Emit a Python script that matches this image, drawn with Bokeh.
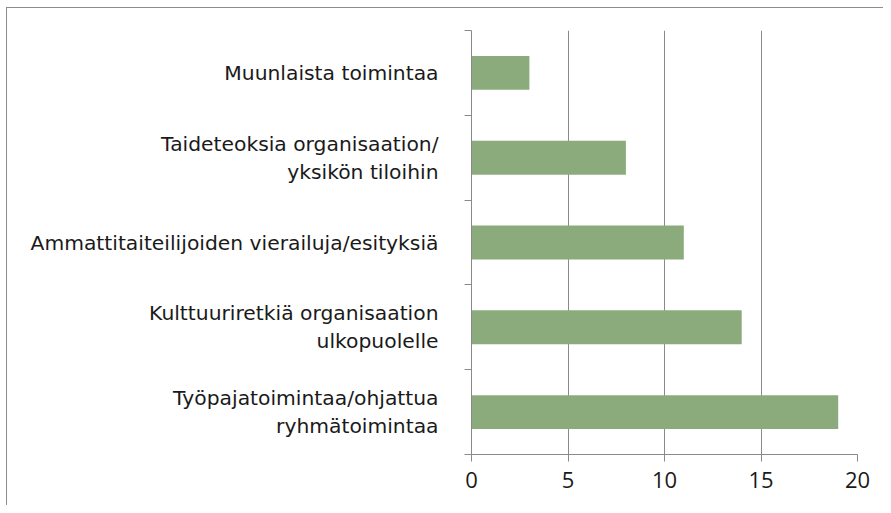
from bokeh.plotting import figure
from bokeh.models import Range1d, FixedTicker, ColumnDataSource, LinearAxis
from bokeh.embed import file_html
from bokeh.resources import INLINE

# Data (bottom to top)
categories = [
    "Työpajatoimintaa/ohjattua\nryhmätoimintaa",
    "Kulttuuriretkiä organisaation\nulkopuolelle",
    "Ammattitaiteilijoiden vierailuja/esityksiä",
    "Taideteoksia organisaation/\nyksikön tiloihin",
    "Muunlaista toimintaa",
]
values = [19, 14, 11, 8, 3]
x_ticks = [0, 5, 10, 15, 20]

n = len(categories)
pos = [i + 0.5 for i in range(n)]

BAR = "#8bab7d"
GREY = "#8a8a8a"
TEXT = "#1a1a1a"
FONT = "DejaVu Sans"
NUMFONT = "Open Sans"

p = figure(width=883, height=505, output_backend="svg", toolbar_location=None,
           x_range=Range1d(0, 20), y_range=Range1d(0, n))
p.min_border_left = 471
p.min_border_right = 26
p.min_border_top = 30
p.min_border_bottom = 51
p.outline_line_color = None
p.background_fill_color = "white"
p.border_fill_color = None
p.styles = {"box-shadow": "inset 6px 7px 0 0 white, inset 7px 8px 0 0 #8c8c8c",
            "background-color": "white"}

src = ColumnDataSource(dict(y=pos, v=values))
p.hbar(y="y", right="v", left=0, height=0.4, source=src,
       fill_color=BAR, line_color=None)

# x axis
xa = p.xaxis[0]
xa.ticker = FixedTicker(ticks=x_ticks)
xa.axis_line_color = GREY
xa.major_tick_line_color = GREY
xa.major_tick_out = 7
xa.major_tick_in = 0
xa.minor_tick_line_color = None
xa.major_label_text_font = NUMFONT
xa.major_label_text_font_size = "22px"
xa.major_label_text_color = TEXT
xa.major_label_standoff = 10

# y axis with boundary ticks (no labels)
ya = p.yaxis[0]
ya.ticker = FixedTicker(ticks=list(range(n + 1)))
ya.axis_line_color = GREY
ya.major_tick_line_color = GREY
ya.major_tick_out = 7
ya.major_tick_in = 0
ya.minor_tick_line_color = None
ya.major_label_text_font_size = "0px"
ya.major_label_text_color = None
ya.major_label_standoff = 0

# second y axis carrying the category labels
la = LinearAxis(ticker=FixedTicker(ticks=pos),
                major_label_overrides={y: c for y, c in zip(pos, categories)})
la.axis_line_color = None
la.major_tick_line_color = None
la.minor_tick_line_color = None
la.major_tick_out = 0
la.major_tick_in = 0
la.major_label_standoff = 26
la.major_label_orientation = "horizontal"
la.major_label_text_font = FONT
la.major_label_text_font_size = "20.3px"
la.major_label_text_color = TEXT
la.major_label_text_line_height = 1.17
p.add_layout(la, "left")

p.xgrid.ticker = FixedTicker(ticks=x_ticks)
p.xgrid.grid_line_color = GREY
p.ygrid.grid_line_color = None

open("out.html", "w").write(file_html(p, INLINE))
